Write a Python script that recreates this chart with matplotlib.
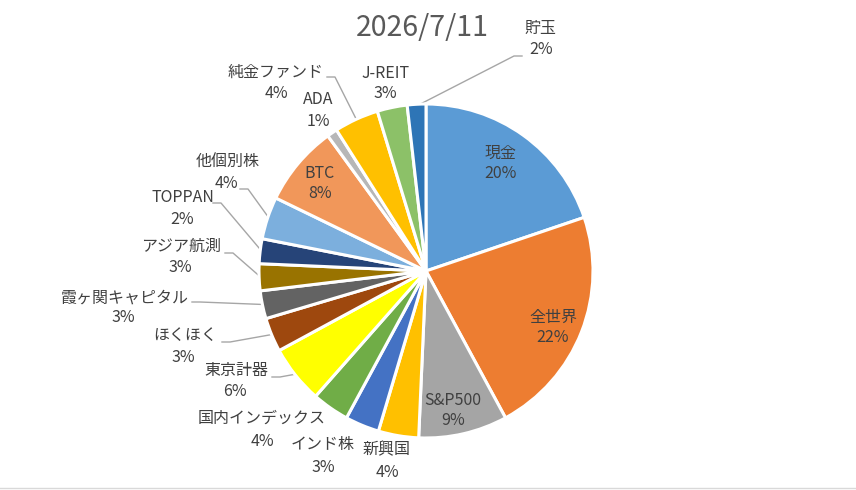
import numpy as np
import matplotlib
matplotlib.use("Agg")
import matplotlib.pyplot as plt

plt.rcParams['font.family'] = ['Noto Sans CJK JP', 'DejaVu Sans']

title = "2026/7/11"
categories = ["現金", "全世界", "S&P500", "新興国", "インド株", "国内インデックス",
              "東京計器", "ほくほく", "霞ヶ関キャピタル", "アジア航測", "TOPPAN",
              "他個別株", "BTC", "ADA", "純金ファンド", "J-REIT", "貯玉"]
values = [19.8, 22.3, 8.6, 3.9, 3.3, 3.6, 5.6, 3.3, 2.7, 2.6, 2.4, 4.1, 7.8, 1.0, 4.3, 2.9, 1.8]
colors = ["#5B9BD5", "#ED7D31", "#A5A5A5", "#FFC000", "#4472C4", "#70AD47",
          "#FFFF00", "#9E480E", "#636363", "#997300", "#264478",
          "#7CAFDD", "#F1975A", "#B7B7B7", "#FFC000", "#8CC168", "#2E75B6"]

# layout (pixels): name line center, percent line center, leader elbow
W, H = 856, 490
CX, CY, R = 426, 271, 167
label_pos = {
    "現金": ((501, 153), (501, 173), None),
    "全世界": ((553, 317), (553, 337), None),
    "S&P500": ((453, 400), (453, 420), None),
    "BTC": ((320, 174), (320, 194), None),
    "新興国": ((387, 450), (387, 472), None),
    "インド株": ((323, 444), (323, 467), None),
    "国内インデックス": ((262, 418), (262, 441), None),
    "東京計器": ((236, 370), (235, 391), (272, 377)),
    "ほくほく": ((185, 335), (183, 357), (222, 342)),
    "霞ヶ関キャピタル": ((125, 298), (123, 318), (192, 302)),
    "アジア航測": ((181, 246), (180, 268), (225, 253)),
    "TOPPAN": ((183, 197), (182, 220), (213, 203)),
    "他個別株": ((228, 162), (226, 184), (240, 189)),
    "ADA": ((318, 100), (318, 121), None),
    "純金ファンド": ((276, 72), (276, 93), (327, 77)),
    "J-REIT": ((386, 73), (385, 94), None),
    "貯玉": ((540, 28), (541, 50), (522, 56)),
}

def px(x, y):
    return (x - CX) / R, (CY - y) / R

fig = plt.figure(figsize=(W / 100, H / 100), dpi=100)
ax = fig.add_axes([0, 0, 1, 1])
wedges, _ = ax.pie(values, colors=colors, startangle=90, counterclock=False,
                   radius=1.0, wedgeprops=dict(edgecolor="white", linewidth=2.2))
ax.set_xlim(px(0, 0)[0], px(W, 0)[0])
ax.set_ylim(px(0, H)[1], px(0, 0)[1])
ax.set_aspect('auto')
ax.axis('off')

total = sum(values)
txtc = "#404040"
lc = "#A6A6A6"
fs = 11.5
for w, cat, v in zip(wedges, categories, values):
    pct = f"{round(v / total * 100):d}%"
    mid = np.deg2rad((w.theta1 + w.theta2) / 2)
    (nx, ny), (qx, qy), elbow = label_pos[cat]
    ax.text(*px(nx, ny), cat, ha="center", va="center", fontsize=fs, color=txtc)
    ax.text(*px(qx, qy), pct, ha="center", va="center", fontsize=fs, color=txtc)
    if elbow is not None:
        ex, ey = px(*elbow)
        sx, sy = 0.99 * np.cos(mid), 0.99 * np.sin(mid)
        dirx = 1 if sx > ex else -1
        ex2 = ex + dirx * 8 / R
        ax.plot([ex, ex2, sx], [ey, ey, sy], color=lc, lw=1.0, zorder=0.5)

tx, ty = px(422, 28)
ax.text(tx, ty, title, ha="center", va="center", fontsize=20.5, color="#595959")
# bottom border line
ax.plot([px(0, 488)[0], px(W, 488)[0]], [px(0, 488)[1]] * 2, color="#D9D9D9", lw=1)

fig.savefig("out.png", dpi=100)
